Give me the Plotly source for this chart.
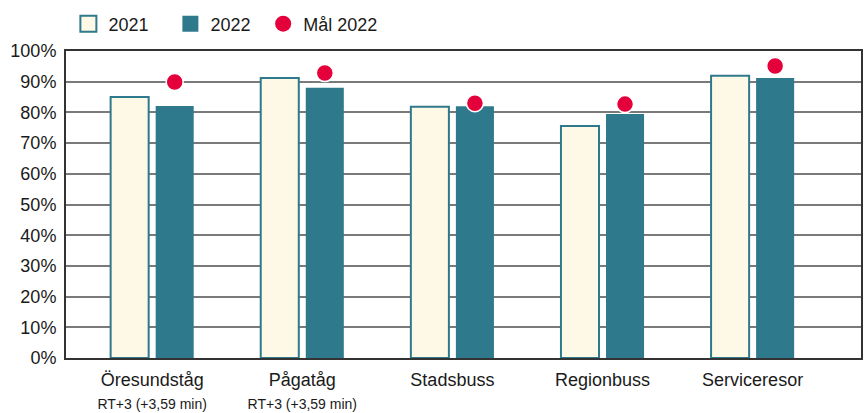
import plotly.graph_objects as go

categories = [
    "Öresundståg<br><span style='font-size:14px'>RT+3 (+3,59 min)</span>",
    "Pågatåg<br><span style='font-size:14px'>RT+3 (+3,59 min)</span>",
    "Stadsbuss",
    "Regionbuss",
    "Serviceresor",
]
values_2021 = [85.0, 91.2, 81.8, 75.6, 91.9]
values_2022 = [82.1, 88.0, 82.0, 79.5, 91.2]
goal_2022 = [89.9, 92.8, 83.0, 82.7, 95.1]
y_ticks = [0, 10, 20, 30, 40, 50, 60, 70, 80, 90, 100]
y_tick_labels = [f"{v}%" for v in y_ticks]

TEAL = "#2E7A8C"
CREAM = "#FEF8E6"
RED = "#E4003A"
FONT = "Liberation Sans, Arial, sans-serif"

fig = go.Figure()
fig.add_trace(go.Bar(
    name="2021", x=categories, y=values_2021, offsetgroup="a",
    marker=dict(color=CREAM, line=dict(color=TEAL, width=2)),
    showlegend=False,
))
fig.add_trace(go.Bar(
    name="2022", x=categories, y=values_2022, offsetgroup="b",
    marker=dict(color=TEAL, line=dict(color=TEAL, width=0)),
    showlegend=False,
))
fig.add_trace(go.Scatter(
    name="Mål 2022", x=categories, y=goal_2022, mode="markers", offsetgroup="b",
    marker=dict(color=RED, size=17, line=dict(color="white", width=1.5)),
    showlegend=False, cliponaxis=False,
))
# legend entries
fig.add_trace(go.Scatter(
    name="2021", x=[None], y=[None], mode="markers", legend="legend",
    marker=dict(symbol="square", color=CREAM, size=20, line=dict(color=TEAL, width=2)),
))
fig.add_trace(go.Scatter(
    name="2022", x=[None], y=[None], mode="markers", legend="legend",
    marker=dict(symbol="square", color=TEAL, size=20, line=dict(width=0)),
))
fig.add_trace(go.Scatter(
    name="Mål 2022", x=[None], y=[None], mode="markers", legend="legend2",
    marker=dict(color=RED, size=17, line=dict(width=0)),
))

fig.update_layout(
    width=864, height=413,
    margin=dict(l=66, r=3, t=51, b=55, autoexpand=False),
    paper_bgcolor="white", plot_bgcolor="white",
    font=dict(family=FONT, size=18, color="#1a1a1a"),
    barmode="group", bargap=0.40, bargroupgap=0.155,
    scattermode="group",
    showlegend=True,
    legend=dict(
        orientation="h", x=0.003, xanchor="left", y=1.088, yanchor="middle",
        font=dict(size=18), itemsizing="trace", entrywidth=57,
        bgcolor="rgba(0,0,0,0)",
    ),
    legend2=dict(
        orientation="h", x=0.248, xanchor="left", y=1.088, yanchor="middle",
        font=dict(size=18), itemsizing="trace",
        bgcolor="rgba(0,0,0,0)",
    ),
    xaxis=dict(
        type="category", range=[-0.574, 4.722],
        showline=True, linecolor="#333", linewidth=2, mirror=True,
        showgrid=False, ticks="", tickfont=dict(size=18), ticklabelstandoff=4,
    ),
    yaxis=dict(
        range=[0, 100], tickvals=y_ticks, ticktext=y_tick_labels,
        showline=True, linecolor="#333", linewidth=2, mirror=True,
        showgrid=True, gridcolor="#7a7a7a", gridwidth=1.5,
        ticks="", tickfont=dict(size=18), zeroline=False, ticklabelstandoff=4,
    ),
)

fig.write_html(
    "out.html",
    config={"displayModeBar": False},
    post_script="document.body.style.margin='0';",
)
